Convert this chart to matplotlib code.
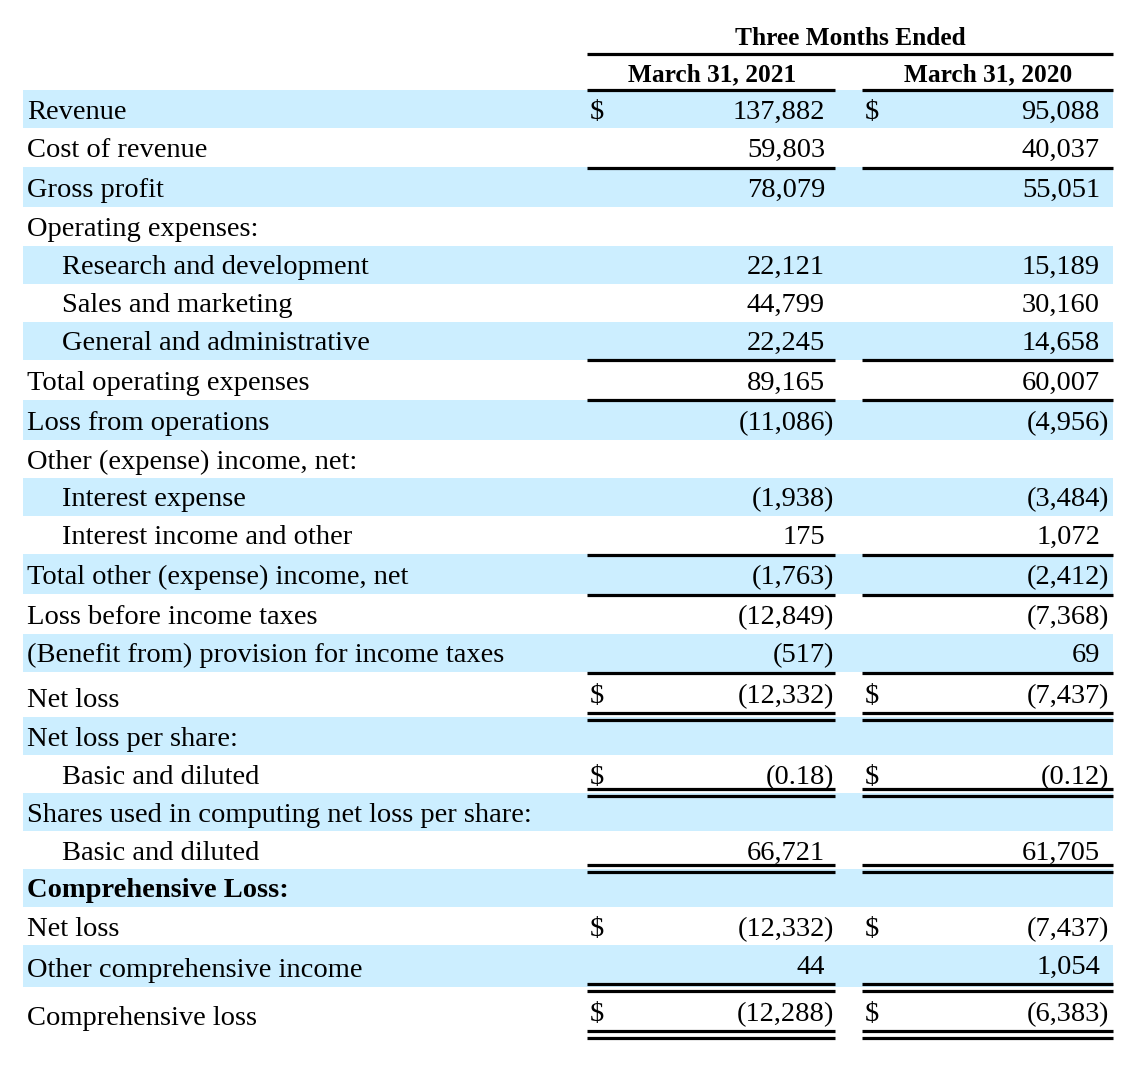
import matplotlib.pyplot as plt
from matplotlib.patches import Rectangle

# table content
labels = ['Revenue', 'Cost of revenue', 'Gross profit', 'Operating expenses:',
          'Research and development', 'Sales and marketing', 'General and administrative',
          'Total operating expenses', 'Loss from operations', 'Other (expense) income, net:',
          'Interest expense', 'Interest income and other', 'Total other (expense) income, net',
          'Loss before income taxes', '(Benefit from) provision for income taxes', 'Net loss',
          'Net loss per share:', 'Basic and diluted', 'Shares used in computing net loss per share:',
          'Basic and diluted', 'Comprehensive Loss:', 'Net loss', 'Other comprehensive income',
          'Comprehensive loss']
indent = [0, 0, 0, 0, 1, 1, 1, 0, 0, 0, 1, 1, 0, 0, 0, 0, 0, 1, 0, 1, 0, 0, 0, 0]
bold = [0] * 20 + [1] + [0] * 3
q1_2021 = ['137,882', '59,803', '78,079', '', '22,121', '44,799', '22,245', '89,165',
           '(11,086)', '', '(1,938)', '175', '(1,763)', '(12,849)', '(517)', '(12,332)',
           '', '(0.18)', '', '66,721', '', '(12,332)', '44', '(12,288)']
q1_2020 = ['95,088', '40,037', '55,051', '', '15,189', '30,160', '14,658', '60,007',
           '(4,956)', '', '(3,484)', '1,072', '(2,412)', '(7,368)', '69', '(7,437)',
           '', '(0.12)', '', '61,705', '', '(7,437)', '1,054', '(6,383)']
dollar = [1, 0, 0, 0, 0, 0, 0, 0, 0, 0, 0, 0, 0, 0, 0, 1, 0, 1, 0, 0, 0, 1, 0, 1]
col_heads = ['March 31, 2021', 'March 31, 2020']
group_head = 'Three Months Ended'

# layout (pixels)
W, H = 1138, 1088
row_edges = [90, 128, 167, 207, 246, 284, 322, 360, 400, 440, 478, 516, 554, 594, 634,
             672, 717, 755, 793, 831, 869, 907, 945, 987, 1040]
val_base = [119, 157, 197, 236, 274, 312, 350, 390, 430, 469, 506, 544, 584, 624, 662,
            703, 746, 784, 822, 860, 897, 936, 974, 1021]
lab_shift = {15: 4, 22: 3, 23: 4}
single_lines = [168, 360, 400, 555, 595, 673]
double_lines = [713, 789, 865, 984, 1031]
cols = [(587, 835), (862, 1113)]
num_right = [825, 1100]
shade = '#cceeff'
font = 'Liberation Serif'
fs = 20.5
hfs = 18.3
lw = 2.3

fig = plt.figure(figsize=(W / 100, H / 100), dpi=100)
ax = fig.add_axes([0, 0, 1, 1])
ax.set_xlim(0, W)
ax.set_ylim(H, 0)
ax.axis('off')

for i in range(len(labels)):
    top, bot = row_edges[i], row_edges[i + 1]
    if i % 2 == 0:
        ax.add_patch(Rectangle((23, top), 1113 - 23, bot - top, color=shade, lw=0, zorder=0))
    yb = val_base[i]
    ax.text(27 + 35 * indent[i], yb + lab_shift.get(i, 0), labels[i], family=font, fontsize=fs,
            fontweight='bold' if bold[i] else 'normal', va='baseline', ha='left')
    for c, v in enumerate([q1_2021[i], q1_2020[i]]):
        if dollar[i]:
            ax.text(cols[c][0] + 3, yb, '$', family=font, fontsize=fs, va='baseline', ha='left')
        if not v:
            continue
        if v.endswith(')'):
            ax.text(num_right[c], yb, v[:-1], family=font, fontsize=fs, va='baseline', ha='right')
            ax.text(num_right[c] - 2, yb, ')', family=font, fontsize=fs, va='baseline', ha='left')
        else:
            ax.text(num_right[c], yb, v, family=font, fontsize=fs, va='baseline', ha='right')

# header
ax.text(850, 45, group_head, family=font, fontsize=hfs, fontweight='bold', va='baseline', ha='center')
ax.plot([587, 1113], [54, 54], color='black', lw=lw, solid_capstyle='butt')
for c, h in enumerate(col_heads):
    ax.text((cols[c][0] + cols[c][1]) / 2 + 1, 81, h, family=font, fontsize=hfs, fontweight='bold',
            va='baseline', ha='center')
    ax.plot(cols[c], [90, 90], color='black', lw=lw, solid_capstyle='butt')

for c in range(2):
    for y in single_lines:
        ax.plot(cols[c], [y, y], color='black', lw=lw, solid_capstyle='butt')
    for y in double_lines:
        ax.plot(cols[c], [y, y], color='black', lw=lw, solid_capstyle='butt')
        ax.plot(cols[c], [y + 7, y + 7], color='black', lw=lw, solid_capstyle='butt')

fig.savefig('out.png', dpi=100, facecolor='white')
